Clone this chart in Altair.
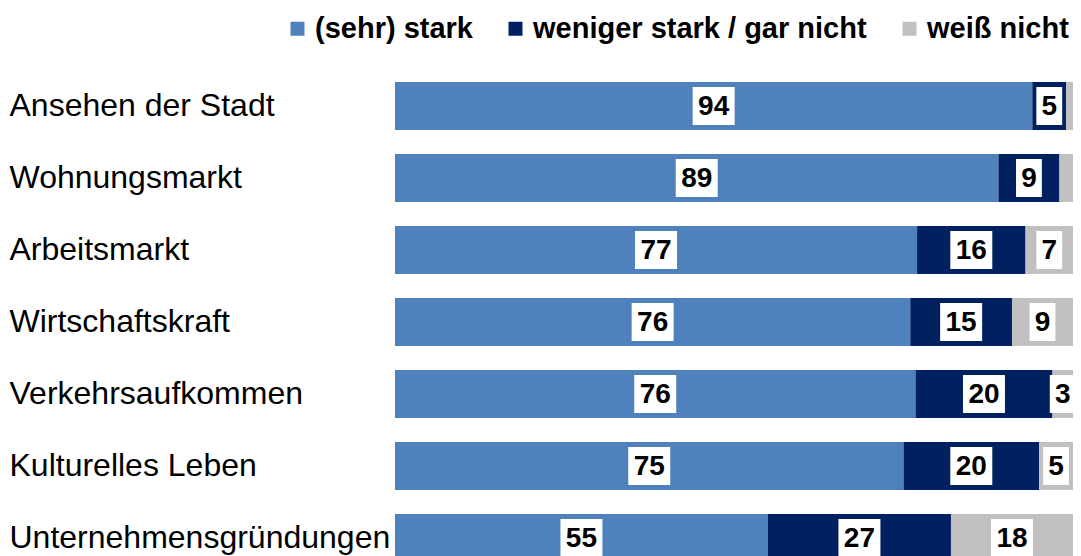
import altair as alt
import pandas as pd

categories = ["Ansehen der Stadt", "Wohnungsmarkt", "Arbeitsmarkt", "Wirtschaftskraft",
              "Verkehrsaufkommen", "Kulturelles Leben", "Unternehmensgründungen"]
series = ["(sehr) stark", "weniger stark / gar nicht", "weiß nicht"]
stark = [94, 89, 77, 76, 76, 75, 55]
weniger = [5, 9, 16, 15, 20, 20, 27]
weiss = [1, 2, 7, 9, 3, 5, 18]
colors = ["#4F81BD", "#002060", "#C0C0C0"]

rows = []
for i, c in enumerate(categories):
    for j, vals in enumerate([stark, weniger, weiss]):
        rows.append({"cat": c, "series": series[j], "order": j, "value": vals[i]})
df = pd.DataFrame(rows)

FONT = "Liberation Sans"

base = alt.Chart(df).transform_stack(
    stack="value", as_=["v0", "v1"], groupby=["cat"],
    sort=[alt.SortField("order", order="ascending")], offset="normalize"
).transform_calculate(
    mid="(datum.v0 + datum.v1) / 2",
    label="''+datum.value",
    ndig="length(''+datum.value)"
)

yenc = alt.Y("cat:N", sort=categories, title=None,
             scale=alt.Scale(paddingInner=1/3, paddingOuter=1/6),
             axis=alt.Axis(domain=False, ticks=False, labelAlign="left", labelPadding=386,
                           labelLimit=400, labelFontSize=32, labelFont=FONT,
                           labelColor="#000000", labelBaseline="middle"))

xscale = alt.Scale(domain=[0, 1], nice=False, zero=True)

bars = base.mark_bar().encode(
    x=alt.X("v0:Q", scale=xscale, axis=None),
    x2="v1:Q",
    y=yenc,
    color=alt.Color("series:N", sort=series,
                    scale=alt.Scale(domain=series, range=colors),
                    legend=alt.Legend(title=None, orient="none", direction="horizontal",
                                      legendX=-112, legendY=-56,
                                      symbolType="square", symbolSize=196, symbolStrokeWidth=0,
                                      labelFontSize=29, labelFontWeight="bold", labelFont=FONT,
                                      labelColor="#000000", labelOffset=3, columnPadding=28,
                                      labelLimit=500)),
)

box_path2 = "M-1.105,-1H1.105V1H-1.105Z"
box_path1 = "M-0.68,-1H0.68V1H-0.68Z"

lab = base.transform_filter("datum.value >= 3")

box2 = lab.transform_filter("datum.ndig == 2").mark_point(
    shape=box_path2, size=1444, filled=True, color="white", opacity=1, strokeWidth=0, clip=True
).encode(x=alt.X("mid:Q", scale=xscale), y=alt.Y("cat:N", sort=categories))

box1 = lab.transform_filter("datum.ndig == 1").mark_point(
    shape=box_path1, size=1444, filled=True, color="white", opacity=1, strokeWidth=0, clip=True
).encode(x=alt.X("mid:Q", scale=xscale), y=alt.Y("cat:N", sort=categories))

text = lab.mark_text(font=FONT, fontSize=28, fontWeight="bold", color="black",
                     baseline="middle", dy=1).encode(
    x=alt.X("mid:Q", scale=xscale), y=alt.Y("cat:N", sort=categories), text="label:N")

chart = alt.layer(bars, box2, box1, text).properties(
    width=678, height=504,
    padding={"top": 6, "left": 1, "right": 0, "bottom": 0}
).configure_view(stroke=None).configure_axis(grid=False)

chart.save("out.html", embed_options={"renderer": "svg", "actions": False})
